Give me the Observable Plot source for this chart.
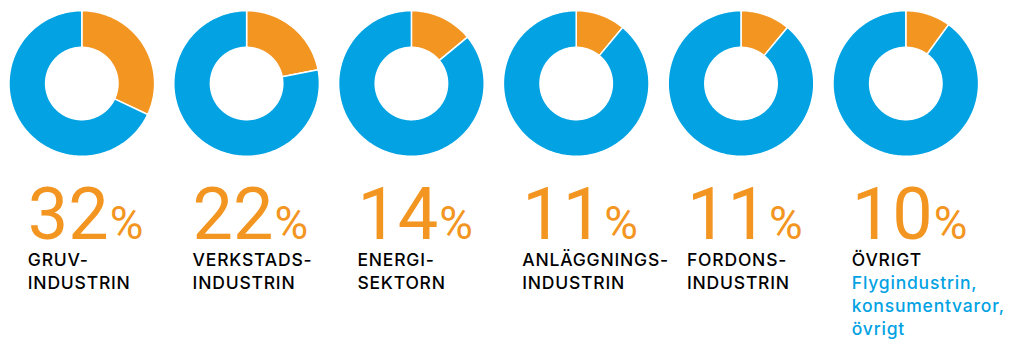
<!DOCTYPE html>
<html><head><meta charset="utf-8">
<script src="https://cdn.jsdelivr.net/npm/d3@7"></script>
<script src="https://cdn.jsdelivr.net/npm/@observablehq/plot@0.6"></script>
<style>html,body{margin:0;padding:0;background:#fff} svg{display:block}</style>
</head><body><div id="chart"></div>
<script>
// ---- data ----
const labels = ["GRUV-\nINDUSTRIN", "VERKSTADS-\nINDUSTRIN", "ENERGI-\nSEKTORN", "ANLÄGGNINGS-\nINDUSTRIN", "FORDONS-\nINDUSTRIN", "ÖVRIGT"];
const shares = [32, 22, 14, 11, 11, 10];
const subLabels = ["", "", "", "", "", "Flygindustrin,\nkonsumentvaror,\növrigt"];
const sectors = ["andel", "övrigt"];

// ---- layout ----
const W = 1019, H = 342;
const step = 164.8;             // px between donut centres
const cy = 83, rOuter = 72.8, rInner = 36.2;
const orange = "#F39521", blue = "#02A2E3";
const numFont = "Roboto", labFont = "Inter";
const numSize = 72, pctSize = 46, labSize = 17.5, lh = 22.8;
const numBase = 238.5, labBase = 265.8;
const textDx = -54;

// donut polygons computed from shares
const arcs = [];
shares.forEach((v, i) => {
  const parts = [[0, v / 100], [v / 100, 1]];
  parts.forEach(([f0, f1], k) => {
    const a0 = f0 * 2 * Math.PI, a1 = f1 * 2 * Math.PI;
    const n = Math.max(4, Math.ceil((a1 - a0) / (Math.PI / 180)));
    const id = i + "-" + k;
    for (let j = 0; j <= n; j++) {
      const a = a0 + (a1 - a0) * j / n;
      arcs.push({id, sector: sectors[k], x: i + rOuter * Math.sin(a) / step, y: cy - rOuter * Math.cos(a)});
    }
    for (let j = n; j >= 0; j--) {
      const a = a0 + (a1 - a0) * j / n;
      arcs.push({id, sector: sectors[k], x: i + rInner * Math.sin(a) / step, y: cy - rInner * Math.cos(a)});
    }
  });
});

const ctx = document.createElement("canvas").getContext("2d");
ctx.font = `400 ${numSize}px ${numFont}`;
const rows = shares.map((v, i) => ({i, v, label: labels[i], sub: subLabels[i],
  w: ctx.measureText(String(v)).width}));

const topOf = (base, fs) => base - 0.71 * (lh / fs) * fs;

const plot = Plot.plot({
  width: W, height: H,
  margin: 0,
  x: {domain: [0, 5], range: [81.3, 905.3], axis: null},
  y: {domain: [0, H], range: [0, H], axis: null},
  color: {domain: sectors, range: [orange, blue]},
  style: {background: "#fff"},
  marks: [
    Plot.line(arcs, {x: "x", y: "y", z: "id", fill: "sector", stroke: "#fff", strokeWidth: 1.5, curve: "linear-closed"}),
    Plot.text(rows, {x: "i", y: () => numBase, text: d => String(d.v), dx: textDx, textAnchor: "start", lineAnchor: "bottom",
      fill: orange, fontSize: numSize, fontWeight: 400, fontFamily: numFont}),
    Plot.text(rows, {x: d => d.i + (d.w + 1) / step, y: () => numBase, text: () => "%", dx: textDx, textAnchor: "start", lineAnchor: "bottom",
      fill: orange, fontSize: pctSize, fontWeight: 400, fontFamily: numFont}),
    Plot.text(rows, {x: "i", y: () => topOf(labBase, labSize), text: "label", dx: textDx, textAnchor: "start", lineAnchor: "top",
      lineHeight: lh / labSize, fill: "#000", fontSize: labSize, fontWeight: 500, fontFamily: labFont, ariaDescription: "labels"}),
    Plot.text(rows.filter(d => d.sub), {x: "i", y: () => topOf(labBase + lh, labSize), text: "sub", dx: textDx, textAnchor: "start", lineAnchor: "top",
      lineHeight: lh / labSize, fill: blue, fontSize: labSize, fontWeight: 500, fontFamily: labFont, ariaDescription: "sublabels"})
  ]
});
d3.select(plot).selectAll('g[aria-description="labels"] text, g[aria-description="sublabels"] text').style("letter-spacing", "0.8px");
document.getElementById("chart").appendChild(plot);
</script>
</body></html>
